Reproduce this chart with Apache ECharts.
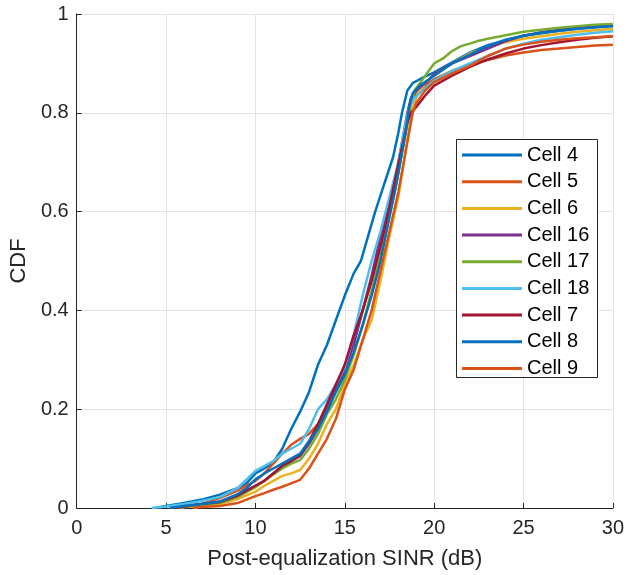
<!DOCTYPE html>
<html>
<head>
<meta charset="utf-8">
<script src="https://cdn.jsdelivr.net/npm/echarts@6/dist/echarts.min.js"></script>
<style>
html,body{margin:0;padding:0;background:#fff;}
#chart{width:627px;height:575px;}
</style>
</head>
<body>
<div id="chart"></div>
<script>
// Series names and colours (MATLAB default order)
const seriesNames = ['Cell 4','Cell 5','Cell 6','Cell 16','Cell 17','Cell 18','Cell 7','Cell 8','Cell 9'];
const seriesColors = ['#0072BD','#D95319','#EDB120','#7E2F8E','#77AC30','#4DBEEE','#A2142F','#0072BD','#D95319'];

// Tick values
const xTicks = [0,5,10,15,20,25,30];
const yTicks = [0,0.2,0.4,0.6,0.8,1];

// CDF curves: [SINR dB, CDF]
const cell4 = [[4.4,0],[5,0.004],[6,0.01],[7,0.017],[8,0.027],[9,0.04],[9.5,0.05],[10,0.07],[10.5,0.08],[11,0.092],[11.5,0.12],[12,0.16],[12.5,0.195],[13,0.235],[13.5,0.29],[14,0.33],[14.5,0.38],[15,0.43],[15.5,0.475],[15.9,0.5],[16.3,0.55],[16.7,0.6],[17.2,0.655],[17.7,0.71],[18,0.76],[18.2,0.8],[18.5,0.845],[18.8,0.86],[19.3,0.87],[20,0.882],[21,0.902],[22,0.922],[23,0.937],[24,0.947],[25,0.956],[26,0.961],[27,0.966],[28,0.97],[29,0.973],[30,0.976]];
const cell5 = [[5.5,0],[6,0.003],[7,0.008],[8,0.02],[9,0.035],[10,0.055],[10.5,0.07],[11,0.09],[11.5,0.11],[12,0.128],[12.5,0.14],[13,0.15],[13.5,0.17],[14,0.2],[14.5,0.24],[15,0.29],[15.5,0.34],[16,0.4],[16.5,0.46],[17,0.53],[17.5,0.6],[17.9,0.66],[18.2,0.72],[18.5,0.78],[18.7,0.82],[19,0.84],[19.5,0.855],[20,0.868],[21,0.885],[22,0.897],[23,0.907],[24,0.916],[25,0.922],[26,0.927],[27,0.93],[28,0.933],[29,0.936],[30,0.938]];
const cell6 = [[5.5,0],[6,0.002],[7,0.005],[8,0.008],[9,0.018],[10,0.033],[10.5,0.045],[11,0.055],[11.5,0.065],[12,0.07],[12.5,0.077],[13,0.1],[13.5,0.13],[14,0.17],[14.5,0.2],[15,0.25],[15.5,0.29],[16,0.34],[16.5,0.38],[17,0.46],[17.5,0.55],[18,0.63],[18.3,0.7],[18.6,0.77],[18.8,0.81],[19.1,0.84],[19.5,0.86],[20,0.878],[21,0.9],[22,0.92],[23,0.933],[24,0.943],[25,0.95],[26,0.955],[27,0.96],[28,0.964],[29,0.967],[30,0.97]];
const cell16 = [[5.3,0],[6,0.003],[7,0.008],[8,0.012],[9,0.025],[10,0.045],[10.5,0.055],[11,0.07],[11.5,0.085],[12,0.095],[12.5,0.105],[13,0.13],[13.5,0.16],[14,0.2],[14.5,0.24],[15,0.28],[15.5,0.33],[16,0.4],[16.5,0.47],[17,0.55],[17.5,0.62],[17.9,0.68],[18.2,0.74],[18.5,0.8],[18.7,0.83],[19,0.845],[19.5,0.86],[20,0.878],[21,0.9],[22,0.915],[23,0.93],[24,0.945],[25,0.956],[26,0.963],[27,0.968],[28,0.972],[29,0.975],[30,0.977]];
const cell17 = [[5.8,0],[6,0.002],[7,0.006],[8,0.01],[9,0.022],[10,0.042],[10.5,0.055],[11,0.068],[11.5,0.08],[12,0.09],[12.5,0.097],[13,0.12],[13.5,0.15],[14,0.19],[14.5,0.22],[15,0.26],[15.5,0.31],[16,0.37],[16.5,0.44],[17,0.51],[17.5,0.59],[17.9,0.66],[18.2,0.72],[18.5,0.78],[18.7,0.82],[18.9,0.845],[19.3,0.865],[19.7,0.885],[20,0.9],[20.5,0.91],[21,0.925],[21.5,0.935],[22,0.94],[22.5,0.946],[23,0.95],[24,0.957],[25,0.964],[26,0.968],[27,0.972],[28,0.975],[29,0.978],[30,0.98]];
const cell18 = [[4.2,0],[5,0.003],[6,0.008],[7,0.014],[8,0.022],[9,0.04],[10,0.075],[10.5,0.085],[11,0.095],[11.5,0.11],[12,0.12],[12.5,0.13],[13,0.16],[13.5,0.2],[14,0.22],[14.5,0.25],[15,0.285],[15.5,0.35],[16,0.43],[16.5,0.5],[17,0.56],[17.5,0.63],[18,0.7],[18.3,0.76],[18.6,0.81],[18.9,0.83],[19.5,0.85],[20,0.865],[21,0.885],[22,0.9],[23,0.915],[24,0.93],[25,0.94],[26,0.948],[27,0.953],[28,0.958],[29,0.962],[30,0.965]];
const cell7 = [[5.5,0],[6,0.003],[7,0.008],[8,0.012],[9,0.025],[10,0.045],[10.5,0.055],[11,0.07],[11.5,0.085],[12,0.095],[12.5,0.108],[13,0.135],[13.5,0.17],[14,0.21],[14.5,0.25],[15,0.29],[15.5,0.35],[16,0.4],[16.5,0.46],[17,0.53],[17.5,0.61],[17.9,0.68],[18.2,0.73],[18.5,0.78],[18.7,0.8],[19,0.812],[19.5,0.835],[20,0.855],[20.5,0.865],[21,0.875],[22,0.893],[23,0.908],[24,0.92],[25,0.93],[26,0.937],[27,0.943],[28,0.948],[29,0.952],[30,0.955]];
const cell8 = [[5.2,0],[6,0.004],[7,0.008],[8,0.013],[9,0.028],[9.5,0.04],[10,0.058],[10.5,0.07],[11,0.08],[11.5,0.09],[12,0.1],[12.5,0.11],[13,0.135],[13.5,0.16],[14,0.195],[14.5,0.235],[15,0.27],[15.5,0.315],[16,0.37],[16.5,0.43],[17,0.5],[17.5,0.59],[17.8,0.64],[18.1,0.7],[18.4,0.76],[18.6,0.81],[18.8,0.84],[19.2,0.855],[20,0.875],[21,0.9],[22,0.918],[23,0.935],[24,0.948],[25,0.956],[26,0.962],[27,0.966],[28,0.97],[29,0.973],[30,0.975]];
const cell9 = [[6.5,0],[7,0.002],[8,0.004],[9,0.01],[10,0.024],[10.5,0.03],[11,0.037],[11.5,0.043],[12,0.05],[12.5,0.057],[13,0.08],[13.5,0.11],[14,0.14],[14.5,0.18],[15,0.24],[15.5,0.28],[16,0.34],[16.5,0.4],[17,0.48],[17.5,0.56],[18,0.64],[18.3,0.7],[18.6,0.76],[18.8,0.8],[19,0.82],[19.5,0.845],[20,0.862],[21,0.88],[22,0.895],[23,0.915],[24,0.93],[25,0.938],[26,0.944],[27,0.948],[28,0.951],[29,0.953],[30,0.955]];

const seriesData = [cell4, cell5, cell6, cell16, cell17, cell18, cell7, cell8, cell9];

const FONT = 'Liberation Sans, Arial, Helvetica, sans-serif';
const TXT = '#262626';

const chart = echarts.init(document.getElementById('chart'), null, {renderer: 'canvas'});

const option = {
  animation: false,
  backgroundColor: '#ffffff',
  grid: {left: 75, right: 12, top: 14, bottom: 65, containLabel: false},
  xAxis: {
    type: 'value', min: xTicks[0], max: xTicks[xTicks.length-1], interval: 5,
    name: 'Post-equalization SINR (dB)', nameLocation: 'middle', nameGap: 40,
    nameTextStyle: {fontFamily: FONT, fontSize: 22, color: TXT},
    axisLine: {show: true, onZero: false, lineStyle: {color: TXT, width: 1}},
    axisTick: {show: true, inside: true, length: 5, lineStyle: {color: TXT}},
    axisLabel: {fontFamily: FONT, fontSize: 20, color: TXT, margin: 10},
    splitLine: {show: true, lineStyle: {color: '#e3e3e3', width: 1}}
  },
  yAxis: {
    type: 'value', min: yTicks[0], max: yTicks[yTicks.length-1], interval: 0.2,
    name: 'CDF', nameLocation: 'middle', nameGap: 43,
    nameTextStyle: {fontFamily: FONT, fontSize: 22, color: TXT},
    axisLine: {show: true, lineStyle: {color: TXT, width: 1}},
    axisTick: {show: true, inside: true, length: 5, lineStyle: {color: TXT}},
    axisLabel: {fontFamily: FONT, fontSize: 20, color: TXT, margin: 8,
      formatter: v => (v === 0 ? '0' : v === 1 ? '1' : v.toFixed(1))},
    splitLine: {show: true, lineStyle: {color: '#e3e3e3', width: 1}}
  },
  graphic: [{
    type: 'rect', z: 50, left: 456, top: 139,
    shape: {width: 141, height: 238},
    style: {fill: '#ffffff', stroke: TXT, lineWidth: 1}
  }],
  legend: {
    z: 60, orient: 'vertical', left: 462, top: 141.7, padding: 0,
    itemGap: 0, itemWidth: 60, itemHeight: 3, icon: 'rect',
    textStyle: {fontFamily: FONT, fontSize: 20, color: '#000', lineHeight: 26.67, height: 26.67},
    data: seriesNames
  },
  series: seriesNames.map((n, i) => ({
    name: n, type: 'line', data: seriesData[i], symbol: 'none', showSymbol: false,
    smooth: false, clip: true,
    lineStyle: {color: seriesColors[i], width: 2.5},
    itemStyle: {color: seriesColors[i]}
  }))
};
chart.setOption(option);
</script>
</body>
</html>
